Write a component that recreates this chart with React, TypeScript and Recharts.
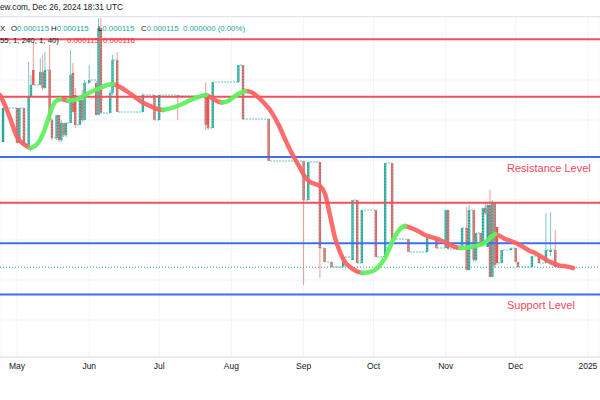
import React from 'react';
import { ComposedChart, Bar, Line, XAxis, YAxis, CartesianGrid, ReferenceLine } from 'recharts';

// ---- data (price in 1e-6 units, day 0 = 2024-05-01) ----
const candleDays = [-6, 0, 1, 3, 5, 6, 7, 10, 11, 12, 14, 15, 17, 18, 19, 20, 21, 23, 24, 25, 27, 28, 29, 31, 34, 35, 36, 40, 41, 43, 54, 59, 61, 69, 81, 82, 84, 95, 97, 108, 123, 125, 130, 132, 135, 140, 144, 146, 148, 154, 158, 161, 168, 176, 180, 184, 185, 191, 193, 194, 196, 197, 199, 200, 201, 202, 203, 204, 205, 206, 208, 212, 214, 215, 221, 224, 227, 229, 231, 239];
const candleOpen = [144.5, 153, 144.25, 153, 143.75, 155.75, 162.5, 158.75, 162, 158, 162.5, 150, 145.5, 151.25, 145, 149.25, 146.25, 149.25, 161.75, 156.25, 148.75, 155, 150, 159.25, 159.25, 151.25, 173, 151.75, 156.75, 165, 152, 156.25, 150, 156.25, 156, 155.75, 148, 159.5, 163.75, 150.25, 139.75, 130, 139.5, 118, 114.5, 113.25, 115, 130, 114.25, 127.5, 115.75, 139.25, 120.25, 117, 120.5, 118, 127.5, 117.75, 123, 112.5, 127.5, 115, 121.75, 119.25, 128, 118.25, 128.75, 110.75, 129.25, 123.25, 114.25, 117.5, 118, 114.5, 113.25, 116, 114.25, 117, 117.5, 113.25];
const candleHigh = [153, 153, 153, 153, 164.5, 161.25, 169.5, 165.5, 166.25, 167, 168.75, 150.5, 151.25, 151.25, 150, 149.25, 149.5, 167.5, 164.25, 158, 156.25, 157.5, 160, 163.75, 159.25, 175.5, 175.5, 157.5, 166.25, 167, 156.75, 156.25, 156.25, 156.25, 159.5, 156.25, 159.5, 163.75, 163.75, 150.25, 139.75, 139.5, 139.5, 118, 114.5, 115.75, 130, 130, 127.5, 127.5, 139.25, 139.25, 120.25, 120.5, 120.5, 127.5, 127.5, 123, 128.25, 128.75, 127.5, 121.75, 121.75, 128, 129.25, 129.25, 132.5, 130, 129.25, 123.25, 117.5, 118, 118, 114.5, 116, 116, 126.75, 127, 122.5, 113.25];
const candleLow = [144.5, 144.25, 144.25, 143.75, 143.75, 155.75, 158.75, 158.75, 157.5, 158, 149.5, 145, 145, 144.5, 144.5, 145.75, 145.75, 149.25, 152, 148, 148.75, 149.5, 150, 159.25, 151.25, 151.25, 151.75, 151.75, 156.25, 152, 152, 150, 150, 150, 147.5, 147.5, 148, 159.25, 150, 139.75, 108.75, 130, 110.5, 114.5, 113.25, 113.25, 115, 114.25, 114.25, 115.75, 115.75, 120, 117, 117, 117.75, 118, 117.75, 117.75, 112.5, 112.5, 114.5, 114.5, 118.75, 119.25, 126.25, 118.25, 110.75, 110.75, 113, 114.25, 114.25, 117.5, 114.5, 113.25, 113.25, 114.25, 114.25, 116, 113.25, 113.25];
const candleClose = [153, 144.25, 153, 143.75, 155.75, 158.75, 158.75, 162, 158, 162.5, 150, 145.5, 151.25, 145, 149.25, 146.25, 149.25, 161.25, 152, 148.75, 155, 150, 159.25, 160, 151.25, 173, 151.75, 156.75, 165, 152, 156.25, 150, 156.25, 156, 148.75, 148, 159.5, 163.75, 150.25, 139.75, 130, 139.5, 118, 114.5, 113.25, 115.75, 130, 114.25, 127.5, 115.75, 139.25, 120.25, 117, 120.5, 118, 127.5, 117.75, 123, 112.5, 127.5, 115, 121.75, 119.25, 128, 126.75, 128.75, 110.75, 129.25, 113.75, 114.25, 117.5, 118, 114.5, 113.25, 116, 114.25, 117.5, 117.5, 113.25, 113.25];

const maDays = [-7.3, -5.2, -3.0, 0, 3.4, 5.6, 7.7, 9.9, 11.6, 13.3, 15.0, 16.3, 18.5, 20.2, 21.9, 23.6, 26.2, 29.2, 32.6, 35.6, 38.6, 41.2, 44.2, 47.6, 50.6, 53.6, 57.1, 60.1, 62.7, 65.7, 70.0, 74.2, 78.5, 81.1, 83.7, 86.3, 88.0, 90.6, 93.6, 95.7, 97.9, 100.0, 103.4, 106.4, 108.6, 110.7, 112.9, 115.0, 117.2, 119.3, 121.5, 123.6, 125.8, 127.9, 130.0, 132.2, 134.3, 136.5, 138.6, 140.8, 142.9, 145.5, 148.1, 150.6, 153.6, 155.8, 157.9, 159.7, 161.4, 163.1, 164.8, 166.5, 168.7, 172.1, 175.1, 178.5, 181.5, 185.0, 188.0, 190.1, 193.1, 196.6, 199.6, 201.7, 203.4, 205.2, 207.3, 209.4, 212.0, 214.6, 217.2, 220.2, 222.3, 224.5, 226.6, 228.8, 230.9, 233.0, 235.6, 238.6];
const maValues = [156.25, 153.75, 150.5, 145.75, 143.75, 143, 143.5, 145, 147.25, 150, 153, 154.5, 155.25, 155.1, 154.75, 154.9, 155.25, 156.25, 157.25, 158, 158.75, 159, 158.25, 157, 155.75, 154.5, 153.5, 152.75, 152.5, 152.9, 153.75, 154.9, 155.9, 156.25, 155.5, 154.6, 154.4, 154.75, 156, 156.75, 157.25, 157.1, 155.75, 154, 152.5, 150.5, 148, 145.25, 142.5, 140.25, 138, 135.75, 134.5, 134, 133.5, 131.5, 126.25, 120.5, 117, 114.5, 113.25, 112.25, 111.75, 111.9, 112.5, 113.75, 115.5, 117.75, 120, 121.75, 123, 123.5, 123.1, 122.25, 121.25, 120.6, 120, 119, 118.25, 118, 118.1, 118.5, 119, 119.75, 120.75, 121.5, 121, 120.25, 119.75, 119.1, 118.25, 117.25, 116.75, 116, 115.25, 114.5, 114, 113.6, 113.4, 113];

const redLevels = [170.2, 155.8, 129.3];
const blueLevels = [140.75, 119.2, 106.4];
const lastPrice = 113.2;

const monthTicks = [0, 31, 61, 92, 123, 153, 184, 214, 245];
const monthLabels = ['May', 'Jun', 'Jul', 'Aug', 'Sep', 'Oct', 'Nov', 'Dec', '2025'];
const gridTicks = [100, 110, 120, 130, 140, 150, 160, 170];

// ---- derived tables ----
const candleData = candleDays.map((d, i) => ({ d, o: candleOpen[i], h: candleHigh[i], l: candleLow[i], c: candleClose[i] }));
const nMa = maValues.length;
const greenData = maDays.map((d, i) => {
  const prevUp = i > 0 && maValues[i] >= maValues[i - 1];
  const nextUp = i < nMa - 1 && maValues[i + 1] >= maValues[i];
  return { d, v: prevUp || nextUp ? maValues[i] : null };
});
const redData = maDays.map((d, i) => {
  const prevDn = i > 0 && maValues[i] < maValues[i - 1];
  const nextDn = i < nMa - 1 && maValues[i + 1] < maValues[i];
  return { d, v: prevDn || nextDn ? maValues[i] : null };
});

const TEAL = '#26a69a';
const RED = '#ef5350';
const FONT = '"Liberation Sans", Arial, sans-serif';

function Candle(props: any) {
  const { x, y, width, height, payload } = props;
  if (x == null || y == null || !payload) return null;
  const top = Math.min(y, y + (height || 0));
  const bot = Math.max(y, y + (height || 0));
  const { o, h, l, c } = payload;
  const span = h - l;
  const py = (v: number) => (span > 0 ? top + ((h - v) / span) * (bot - top) : top);
  const cx = x + width / 2;
  const color = c >= o ? TEAL : RED;
  const yo = py(o);
  const yc = py(c);
  const bTop = Math.min(yo, yc);
  const bH = Math.max(1, Math.abs(yo - yc));
  return (
    <g>
      {bot - top > 0 && <line x1={cx} x2={cx} y1={top} y2={bot} stroke={color} strokeOpacity={0.6} strokeWidth={1} />}
      <rect x={cx - 1.2} y={bTop} width={2.4} height={bH} fill={color} />
    </g>
  );
}

const txt: React.CSSProperties = { position: 'absolute', fontFamily: FONT, fontSize: 7.8, lineHeight: '10px', whiteSpace: 'nowrap', color: '#131722' };

export default function App() {
  return (
    <div style={{ position: 'absolute', left: 0, top: 0, width: 600, height: 400, background: '#ffffff', overflow: 'hidden' }}>
      <ComposedChart width={600} height={375} data={candleData} margin={{ top: 17, right: 0, bottom: 0, left: 0 }}>
        <CartesianGrid stroke="#f0f3fa" />
        <XAxis
          dataKey="d"
          type="number"
          domain={[-7.3, 250.2]}
          allowDataOverflow
          ticks={monthTicks}
          interval={0}
          tickFormatter={(v: number) => monthLabels[monthTicks.indexOf(v)]}
          axisLine={{ stroke: '#d9dce3' }}
          tickLine={false}
          tickMargin={0}
          tick={{ fill: '#131722', fontSize: 8.5, fontFamily: FONT }}
          height={18}
        />
        <YAxis hide type="number" domain={[90.75, 175.75]} allowDataOverflow ticks={gridTicks} />
        <ReferenceLine y={lastPrice} stroke={TEAL} strokeDasharray="1 2" strokeWidth={1} />
        <Line dataKey="c" type="stepAfter" stroke="#6cc6bd" strokeWidth={1} strokeDasharray="2 1" dot={false} activeDot={false} isAnimationActive={false} />
        <Bar dataKey={(e: any) => [e.l, e.h]} barSize={3} shape={<Candle />} isAnimationActive={false} />
        {redLevels.map((v) => (
          <ReferenceLine key={'r' + v} y={v} stroke="#f0505e" strokeWidth={2} />
        ))}
        {blueLevels.map((v) => (
          <ReferenceLine key={'b' + v} y={v} stroke="#3d6ff0" strokeWidth={2} />
        ))}
        <Line data={redData} dataKey="v" type="monotone" stroke="#ff5f5f" strokeOpacity={0.92} strokeWidth={4.5} strokeLinecap="round" dot={false} activeDot={false} connectNulls={false} isAnimationActive={false} />
        <Line data={greenData} dataKey="v" type="monotone" stroke="#5ef05e" strokeOpacity={0.95} strokeWidth={4.5} strokeLinecap="round" dot={false} activeDot={false} connectNulls={false} isAnimationActive={false} />
      </ComposedChart>

      <div style={{ position: 'absolute', left: 0, top: 16, width: 600, height: 1, background: '#e0e3eb' }} />
      <div style={{ ...txt, left: 0, top: 3, fontSize: 8.2 }}>ew.com, Dec 26, 2024 18:31 UTC</div>
      <div style={{ ...txt, left: 0, top: 24 }}>X</div>
      <div style={{ ...txt, left: 11, top: 24 }}>O<span style={{ color: TEAL }}>0.000115</span></div>
      <div style={{ ...txt, left: 51, top: 24 }}>H<span style={{ color: TEAL }}>0.000115</span></div>
      <div style={{ ...txt, left: 98, top: 24 }}>L<span style={{ color: TEAL }}>0.000115</span></div>
      <div style={{ ...txt, left: 141, top: 24 }}>C<span style={{ color: TEAL }}>0.000115</span></div>
      <div style={{ ...txt, left: 183, top: 24, color: TEAL }}>0.000000 (0.00%)</div>
      <div style={{ ...txt, left: 0, top: 36 }}>55, 1, 240, 1, 40)</div>
      <div style={{ ...txt, left: 67, top: 36, color: '#ff2b2b' }}>0.000115</div>
      <div style={{ ...txt, left: 103, top: 36, color: '#ff2b2b' }}>0.000116</div>

      <div style={{ ...txt, left: 507, top: 161, fontSize: 11, lineHeight: '14px', color: '#ef4a5c' }}>Resistance Level</div>
      <div style={{ ...txt, left: 507, top: 298, fontSize: 11, lineHeight: '14px', color: '#ef4a5c' }}>Support Level</div>
    </div>
  );
}
